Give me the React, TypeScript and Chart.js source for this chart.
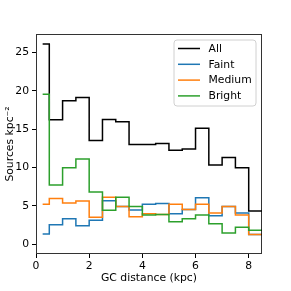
import React, { useEffect, useRef } from "react";
import { Chart, registerables } from "chart.js";

Chart.register(...registerables);

const binEdges = [0.25, 0.5, 1, 1.5, 2, 2.5, 3, 3.5, 4, 4.5, 5, 5.5, 6, 6.5, 7, 7.5, 8, 8.5];
const allValues = [26.1, 16.2, 18.7, 19.1, 13.5, 16.25, 15.95, 13.0, 13.0, 13.1, 12.25, 12.4, 15.1, 10.3, 11.3, 9.95, 4.3];
const faintValues = [1.3, 2.5, 3.3, 2.4, 3.1, 5.65, 4.9, 4.45, 5.2, 5.3, 3.95, 4.5, 6.05, 3.7, 4.9, 4.05, 1.25];
const mediumValues = [5.2, 5.95, 5.35, 5.6, 3.5, 6.1, 4.9, 3.55, 3.95, 3.85, 5.2, 4.5, 5.2, 4.05, 4.9, 3.8, 1.25];
const brightValues = [19.55, 7.7, 9.95, 11.1, 6.8, 4.4, 6.1, 4.9, 3.8, 3.85, 2.9, 3.3, 3.8, 2.65, 1.45, 2.2, 1.8];
const seriesLabels = ["All", "Faint", "Medium", "Bright"];
const seriesColors = ["#000000", "#1f77b4", "#ff7f0e", "#2ca02c"];
const yTicks = [0, 5, 10, 15, 20, 25];
const xTicks = [0, 2, 4, 6, 8];

const FONT_SIZE = 10.8;

// point i sits at the left edge of bin i; a final point closes the last bin
function toSteps(values: number[]) {
  const pts = values.map((v, i) => ({ x: binEdges[i], y: v }));
  pts.push({ x: binEdges[binEdges.length - 1], y: values[values.length - 1] });
  return pts;
}

const framePlugin = {
  id: "frame",
  afterDatasetsDraw(chart: any) {
    const { ctx, chartArea: a } = chart;
    ctx.save();
    ctx.strokeStyle = "rgba(0,0,0,0.8)";
    ctx.lineWidth = 1;
    ctx.strokeRect(Math.round(a.left) + 0.5, Math.round(a.top) + 0.5, Math.round(a.right - a.left) - 1, Math.round(a.bottom - a.top) - 1);
    ctx.restore();
  },
  afterDraw(chart: any) {
    const { ctx, chartArea: a } = chart;
    const w = 82, h = 66;
    const x = a.right - 6 - w;
    const y = a.top + 6;
    ctx.save();
    ctx.beginPath();
    const r = 3;
    ctx.moveTo(x + r, y);
    ctx.lineTo(x + w - r, y);
    ctx.quadraticCurveTo(x + w, y, x + w, y + r);
    ctx.lineTo(x + w, y + h - r);
    ctx.quadraticCurveTo(x + w, y + h, x + w - r, y + h);
    ctx.lineTo(x + r, y + h);
    ctx.quadraticCurveTo(x, y + h, x, y + h - r);
    ctx.lineTo(x, y + r);
    ctx.quadraticCurveTo(x, y, x + r, y);
    ctx.closePath();
    ctx.fillStyle = "rgba(255,255,255,0.8)";
    ctx.fill();
    ctx.strokeStyle = "#d0d0d0";
    ctx.lineWidth = 1;
    ctx.stroke();
    ctx.font = FONT_SIZE + "px 'DejaVu Sans'";
    ctx.textBaseline = "middle";
    ctx.fillStyle = "#000";
    seriesLabels.forEach((lab, i) => {
      const ry = y + 8.5 + i * 15.8;
      ctx.beginPath();
      ctx.strokeStyle = seriesColors[i];
      ctx.lineWidth = 1.5;
      ctx.moveTo(x + 4, ry);
      ctx.lineTo(x + 26, ry);
      ctx.stroke();
      ctx.fillText(lab, x + 34.5, ry + 0.5);
    });
    ctx.restore();
  },
};

export default function App() {
  const ref = useRef<HTMLCanvasElement>(null);
  useEffect(() => {
    if (!ref.current) return;
    Chart.defaults.font.family = "'DejaVu Sans'";
    Chart.defaults.font.size = FONT_SIZE;
    Chart.defaults.color = "#000";
    const data = [allValues, faintValues, mediumValues, brightValues];
    const chart = new Chart(ref.current, {
      type: "line",
      data: {
        datasets: data.map((vals, i) => ({
          label: seriesLabels[i],
          data: toSteps(vals),
          borderColor: seriesColors[i],
          borderWidth: 1.5,
          pointRadius: 0,
          stepped: "before" as const,
          fill: false,
          order: 4 - i,
        })),
      },
      options: {
        responsive: false,
        animation: false,
        layout: { padding: { left: 4, top: 34, right: 29, bottom: 6 } },
        plugins: { legend: { display: false }, tooltip: { enabled: false } },
        scales: {
          x: {
            type: "linear",
            min: 0,
            max: 8.5,
            afterBuildTicks: (s: any) => {
              s.ticks = xTicks.map((v) => ({ value: v }));
            },
            afterFit: (s: any) => {
              s.height = 31;
            },
            grid: { drawOnChartArea: false, drawTicks: true, tickLength: 4, color: "#000" },
            border: { display: false },
            ticks: { padding: 2, maxRotation: 0, color: "#000" },
            title: { display: true, text: "GC distance (kpc)", padding: { top: 0, bottom: 0 }, color: "#000" },
          },
          y: {
            type: "linear",
            min: -1.3,
            max: 27.4,
            afterBuildTicks: (s: any) => {
              s.ticks = yTicks.map((v) => ({ value: v }));
            },
            afterFit: (s: any) => {
              s.width = 32;
            },
            grid: { drawOnChartArea: false, drawTicks: true, tickLength: 4, color: "#000" },
            border: { display: false },
            ticks: { padding: 3, color: "#000" },
            title: { display: true, text: "Sources kpc\u207B\u00B2", padding: { top: 0, bottom: 2 }, color: "#000" },
          },
        },
      },
      plugins: [framePlugin],
    });
    return () => chart.destroy();
  }, []);
  return (
    <div style={{ position: "fixed", left: 0, top: 0, width: 291, height: 291, background: "#fff" }}>
      <canvas ref={ref} width={291} height={291} />
    </div>
  );
}
